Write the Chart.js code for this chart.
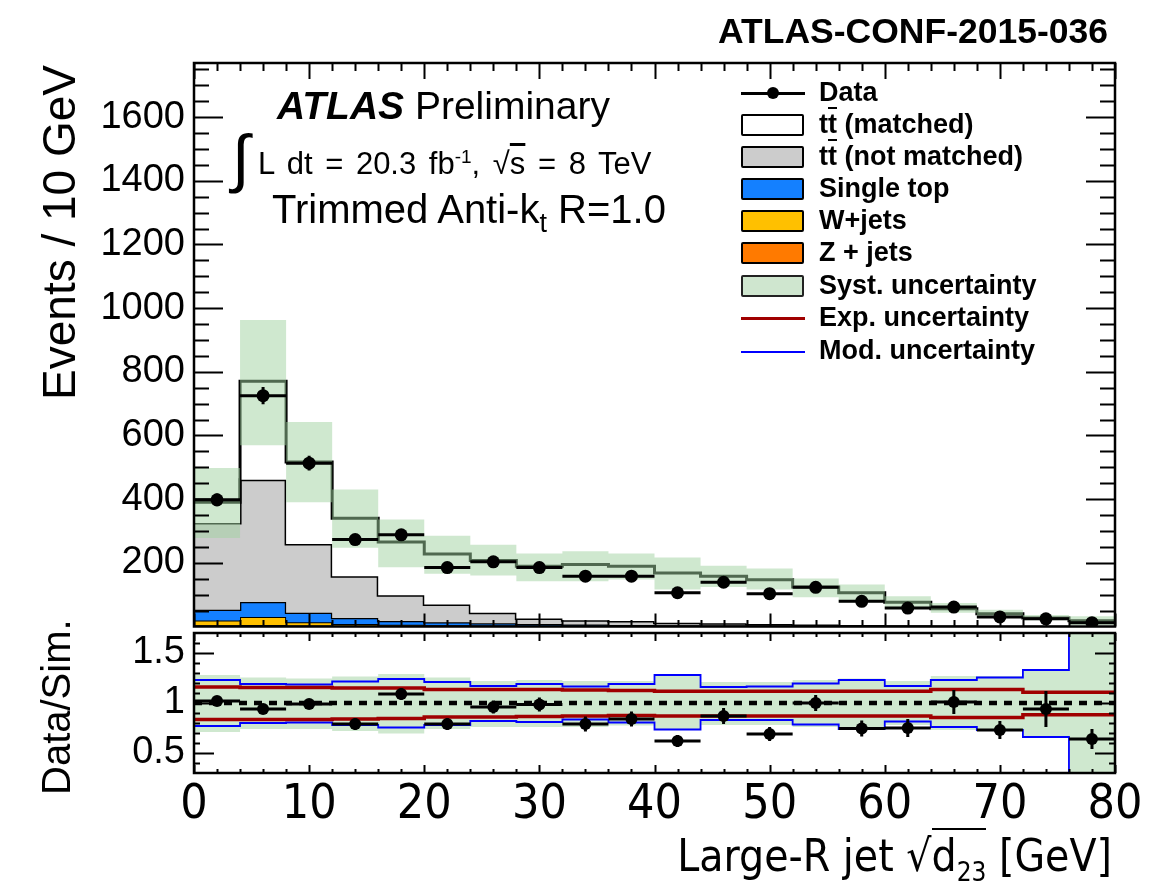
<!DOCTYPE html>
<html>
<head>
<meta charset="utf-8">
<script src="https://cdn.jsdelivr.net/npm/chart.js@4.4.1/dist/chart.umd.min.js"></script>
<style>
  html, body { margin: 0; padding: 0; background: #fff; }
  #wrap { position: relative; width: 1165px; height: 883px; overflow: hidden;
          font-family: 'Liberation Sans', Arial, Helvetica, sans-serif; color: #000; }
  canvas { position: absolute; left: 0; }
  #cMain { top: 0; }
  #cRatio { top: 627px; }
  .txt { position: absolute; white-space: nowrap; line-height: 1; }
  .narrow { font-family: 'Liberation Sans Narrow', 'DejaVu Sans Condensed', 'Liberation Sans', sans-serif; font-stretch: condensed; }
  .ov { text-decoration: overline; }
  #legend { position: absolute; left: 741px; top: 77px; }
  .lrow { position: absolute; left: 0; height: 32px; width: 340px; }
  .lbox { position: absolute; left: 0; top: 5px; width: 59px; height: 18px; border: 2.5px solid #000; border-radius: 2px; }
  .lline { position: absolute; left: 0; width: 64px; }
  .ltext { position: absolute; left: 78px; top: 2px; font-size: 27px; font-weight: bold; line-height: 1; white-space: nowrap; }
</style>
</head>
<body>
<div id="wrap">
  <canvas id="cMain" width="1165" height="633"></canvas>
  <canvas id="cRatio" width="1165" height="256"></canvas>

  <div class="txt" style="right:57px; top:14px; font-size:35.5px; font-weight:bold;">ATLAS-CONF-2015-036</div>
  <div class="txt" style="left:277px; top:86px; font-size:39px;"><b><i>ATLAS</i></b> Preliminary</div>
  <div class="txt" style="left:232px; top:126px; font-size:64px;">&#8747;</div>
  <div class="txt" style="left:258px; top:147px; font-size:31px; word-spacing:4px;">L dt = 20.3 fb<sup style="font-size:19px;">-1</sup>, &#8730;<span class="ov">s</span> = 8 TeV</div>
  <div class="txt" style="left:272px; top:189px; font-size:40px;">Trimmed Anti-k<sub style="font-size:27px;">t</sub> R=1.0</div>

  <div class="txt" style="left:36px; top:400px; width:335px; text-align:right; font-size:46px; transform-origin:0 0; transform:rotate(-90deg);">Events / 10 GeV</div>
  <div class="txt" style="left:36px; top:795px; width:170px; text-align:right; font-size:40px; transform-origin:0 0; transform:rotate(-90deg);">Data/Sim.</div>
  <div class="txt narrow" style="right:53px; top:834px; font-size:44px;">Large-R jet &#8730;<span style="border-top:2px solid #000;">d<sub style="font-size:26px;">23</sub></span> [GeV]</div>

  <div id="legend">
    <div class="lrow" style="top:0px;"><div class="lline" style="top:15px;height:3px;background:#000;"></div><div style="position:absolute;left:26px;top:10px;width:12px;height:12px;border-radius:50%;background:#000;"></div><div class="ltext">Data</div></div>
    <div class="lrow" style="top:32px;"><div class="lbox" style="background:#fff;"></div><div class="ltext">t<span class="ov">t</span> (matched)</div></div>
    <div class="lrow" style="top:64px;"><div class="lbox" style="background:#cccccc;"></div><div class="ltext">t<span class="ov">t</span> (not matched)</div></div>
    <div class="lrow" style="top:96px;"><div class="lbox" style="background:#1480ff;"></div><div class="ltext">Single top</div></div>
    <div class="lrow" style="top:128px;"><div class="lbox" style="background:#ffc000;"></div><div class="ltext">W+jets</div></div>
    <div class="lrow" style="top:160px;"><div class="lbox" style="background:#ff7a00;"></div><div class="ltext">Z + jets</div></div>
    <div class="lrow" style="top:193px;"><div class="lbox" style="background:#cfe6cf;border-color:#222;"></div><div class="ltext">Syst. uncertainty</div></div>
    <div class="lrow" style="top:225px;"><div class="lline" style="top:15px;height:3px;background:#a00000;"></div><div class="ltext">Exp. uncertainty</div></div>
    <div class="lrow" style="top:258px;"><div class="lline" style="top:16px;height:2px;background:#0000ff;"></div><div class="ltext">Mod. uncertainty</div></div>
  </div>
</div>

<script>
// Bin edges of the large-R jet sqrt(d23) histogram [GeV]
const binEdges = [0, 4, 8, 12, 16, 20, 24, 28, 32, 36, 40, 44, 48, 52, 56, 60, 64, 68, 72, 76, 80];
const binCenters = [2, 6, 10, 14, 18, 22, 26, 30, 34, 38, 42, 46, 50, 54, 58, 62, 66, 70, 74, 78];

// Observed events and statistical errors
const dataCounts = [398, 725, 513, 273, 288, 185, 203, 185, 158, 158, 106, 139, 103, 123, 79, 58, 61, 30, 24, 12];
const dataErrors = [20, 27, 23, 17, 17, 14, 14, 14, 13, 13, 10, 12, 10, 11, 9, 8, 8, 6, 5, 4];

// Simulated components (events per bin)
const zJets      = [4, 5, 3, 2, 1.5, 1, 1, 0.5, 0.5, 0.5, 0.3, 0.3, 0.3, 0.2, 0.2, 0.2, 0.1, 0.1, 0.1, 0.1];
const wJets      = [15, 25, 10, 6, 4, 3, 2, 1.5, 1.5, 1, 1, 0.8, 0.7, 0.6, 0.5, 0.4, 0.3, 0.3, 0.2, 0.2];
const singleTop  = [34, 47, 30, 19, 12, 9, 7, 6, 4, 3.5, 2.7, 1.9, 2, 1.2, 1.3, 0.9, 0.6, 0.6, 0.2, 0.2];
const ttNotMatch = [272, 384, 216, 131, 81, 56, 33, 17, 14, 12, 8, 7, 5, 4, 3, 2.5, 2, 1, 1.5, 0.5];
const ttMatched  = [65, 309, 258, 182, 167, 159, 164, 164, 175, 172, 156, 148, 139, 118, 101, 72, 53, 38, 25, 17];

// Systematic uncertainty band on the total prediction
const systLow  = [278, 569, 390, 247, 186, 166, 160, 142, 142, 148, 116, 124, 116, 92, 76, 55, 43, 27, 20, 5];
const systHigh = [498, 963, 642, 430, 336, 285, 257, 229, 236, 229, 217, 191, 182, 151, 132, 95, 74, 53, 36, 32];

// Data / simulation ratio panel
const ratioVals   = [1.02, 0.94, 0.99, 0.79, 1.09, 0.79, 0.96, 0.985, 0.79, 0.84, 0.62, 0.87, 0.69, 1.0, 0.745, 0.75, 1.01, 0.73, 0.94, 0.64];
const ratioErrors = [0.05, 0.04, 0.045, 0.06, 0.06, 0.06, 0.065, 0.07, 0.075, 0.075, 0.06, 0.08, 0.07, 0.08, 0.08, 0.09, 0.12, 0.09, 0.18, 0.1];
const ratioSystLow  = [0.71, 0.74, 0.74, 0.72, 0.695, 0.74, 0.76, 0.76, 0.76, 0.775, 0.73, 0.78, 0.78, 0.76, 0.745, 0.78, 0.73, 0.73, 0.66, 0.2];
const ratioSystHigh = [1.28, 1.255, 1.245, 1.265, 1.29, 1.255, 1.22, 1.23, 1.22, 1.22, 1.29, 1.21, 1.21, 1.23, 1.245, 1.22, 1.27, 1.27, 1.34, 1.9];
const expLow  = [0.835, 0.835, 0.835, 0.84, 0.845, 0.86, 0.86, 0.865, 0.87, 0.875, 0.87, 0.87, 0.87, 0.87, 0.87, 0.87, 0.855, 0.855, 0.883, 0.883];
const expHigh = [1.16, 1.155, 1.155, 1.15, 1.15, 1.135, 1.135, 1.135, 1.13, 1.125, 1.117, 1.117, 1.117, 1.117, 1.117, 1.117, 1.134, 1.134, 1.107, 1.107];
const modLow  = [0.77, 0.80, 0.805, 0.78, 0.755, 0.78, 0.82, 0.81, 0.835, 0.805, 0.735, 0.83, 0.83, 0.785, 0.74, 0.815, 0.76, 0.73, 0.66, 0.2];
const modHigh = [1.23, 1.19, 1.185, 1.215, 1.24, 1.21, 1.17, 1.19, 1.165, 1.19, 1.28, 1.16, 1.165, 1.195, 1.23, 1.17, 1.23, 1.255, 1.33, 1.8];

// Axis ticks
const xMajorTicks = [0, 10, 20, 30, 40, 50, 60, 70, 80];
const mainYLabels = [200, 400, 600, 800, 1000, 1200, 1400, 1600];
const ratioYLabels = [0.5, 1, 1.5];

const X_MIN = 0, X_MAX = 80, Y_MAX = 1770, R_MIN = 0.3, R_MAX = 1.7;
const HELV = "'Liberation Sans', Arial, Helvetica, sans-serif";
const NARROW = "'Liberation Sans Narrow', 'DejaVu Sans Condensed', 'Liberation Sans', sans-serif";
const BAND_FILL = 'rgba(160, 210, 160, 0.5)';

// histogram as a stepped line through the left bin edges (+ closing point)
function steps(values) {
  return binEdges.map((e, i) => ({ x: e, y: values[Math.min(i, values.length - 1)] }));
}
function cumulate(...layers) {
  return layers[0].map((_, i) => layers.reduce((s, l) => s + l[i], 0));
}

// ROOT-like frame with inward ticks on all four sides
function framePlugin(cfg) {
  return {
    id: 'frame',
    afterDraw(chart) {
      const { ctx, chartArea: a, scales: { x, y } } = chart;
      ctx.save();
      ctx.strokeStyle = '#000';
      ctx.lineWidth = 2;
      ctx.beginPath();
      for (let v = X_MIN; v <= X_MAX + 1e-9; v += 2) {
        const px = Math.round(x.getPixelForValue(v)) + 0.5;
        const major = xMajorTicks.includes(v);
        const lb = major ? cfg.xMajB : cfg.xMinB;
        const lt = major ? cfg.xMajT : cfg.xMinT;
        ctx.moveTo(px, a.bottom); ctx.lineTo(px, a.bottom - lb);
        ctx.moveTo(px, a.top); ctx.lineTo(px, a.top + lt);
      }
      for (let v = cfg.yMinorStart; v <= cfg.yMax + 1e-9; v += cfg.yMinorStep) {
        const vv = Math.round(v * 1000) / 1000;
        const py = Math.round(y.getPixelForValue(vv)) + 0.5;
        if (py < a.top + 2 || py > a.bottom - 1) continue;
        const major = cfg.yMajors.some(m => Math.abs(m - vv) < 1e-6);
        const l = major ? cfg.yMaj : cfg.yMin;
        ctx.moveTo(a.left, py); ctx.lineTo(a.left + l, py);
        ctx.moveTo(a.right, py); ctx.lineTo(a.right - l, py);
      }
      ctx.stroke();
      ctx.lineWidth = 2.5;
      ctx.strokeRect(a.left, a.top, a.right - a.left, a.bottom - a.top);
      ctx.restore();
    }
  };
}

// Horizontal (bin width) and vertical (stat.) error bars for the data points
const errorBarPlugin = {
  id: 'errorBars',
  afterDatasetsDraw(chart) {
    const { ctx, chartArea: a, scales: { x, y } } = chart;
    chart.data.datasets.forEach(ds => {
      if (!ds.errors) return;
      ctx.save();
      ctx.beginPath();
      ctx.rect(a.left, a.top, a.right - a.left, a.bottom - a.top);
      ctx.clip();
      ctx.strokeStyle = '#000';
      ctx.lineWidth = 3;
      ctx.beginPath();
      ds.data.forEach((p, i) => {
        const py = y.getPixelForValue(p.y);
        ctx.moveTo(x.getPixelForValue(binEdges[i]), py);
        ctx.lineTo(x.getPixelForValue(binEdges[i + 1]), py);
        const px = x.getPixelForValue(p.x);
        ctx.moveTo(px, y.getPixelForValue(p.y - ds.errors[i]));
        ctx.lineTo(px, y.getPixelForValue(p.y + ds.errors[i]));
      });
      ctx.stroke();
      ctx.restore();
    });
  }
};

function stepLine(label, values, color, width, extra) {
  return Object.assign({
    label, data: steps(values), stepped: 'before', borderColor: color, borderWidth: width,
    pointRadius: 0, fill: false, tension: 0
  }, extra || {});
}

// Stack tops (bottom to top: Z+jets, W+jets, single top, tt not matched, tt matched)
const topZ  = cumulate(zJets);
const topW  = cumulate(zJets, wJets);
const topST = cumulate(zJets, wJets, singleTop);
const topNM = cumulate(zJets, wJets, singleTop, ttNotMatch);
const topM  = cumulate(zJets, wJets, singleTop, ttNotMatch, ttMatched);

const mainDatasets = [
  stepLine('Z + jets', topZ, '#000', 2, { fill: 'origin', backgroundColor: '#ff7a00', order: 7 }),
  stepLine('W+jets', topW, '#000', 2, { fill: 0, backgroundColor: '#ffc000', order: 6 }),
  stepLine('Single top', topST, '#000', 2.5, { fill: 1, backgroundColor: '#1480ff', order: 5 }),
  stepLine('tt (not matched)', topNM, '#000', 3, { fill: 2, backgroundColor: '#cccccc', order: 4 }),
  stepLine('tt (matched)', topM, '#000', 3, { fill: 3, backgroundColor: '#ffffff', order: 3 }),
  stepLine('syst low', systLow, 'rgba(0,0,0,0)', 0, { order: 2 }),
  stepLine('Syst. uncertainty', systHigh, 'rgba(0,0,0,0)', 0, { fill: 5, backgroundColor: BAND_FILL, order: 1 }),
  {
    label: 'Data', data: binCenters.map((c, i) => ({ x: c, y: dataCounts[i] })), errors: dataErrors,
    showLine: false, pointRadius: 6.5, pointBackgroundColor: '#000', pointBorderColor: '#000', pointBorderWidth: 0, order: 0
  }
];

const commonOpts = {
  responsive: false, animation: false, devicePixelRatio: 1,
  plugins: { legend: { display: false }, tooltip: { enabled: false } }
};

function zeroPad(s) { s.paddingTop = 0; s.paddingBottom = 0; s.paddingLeft = 0; s.paddingRight = 0; }

new Chart(document.getElementById('cMain'), {
  type: 'line',
  data: { datasets: mainDatasets },
  options: Object.assign({}, commonOpts, {
    layout: { padding: { left: 0, top: 63, right: 50, bottom: 6 } },
    scales: {
      x: { type: 'linear', min: X_MIN, max: X_MAX, display: false },
      y: {
        type: 'linear', min: 0, max: Y_MAX,
        grid: { display: false, drawTicks: false }, border: { display: false },
        afterBuildTicks: s => { s.ticks = mainYLabels.map(v => ({ value: v })); },
        ticks: { color: '#000', padding: 9, font: { family: HELV, size: 38 }, callback: v => String(v) },
        afterFit: s => { s.width = 194; zeroPad(s); }
      }
    }
  }),
  plugins: [errorBarPlugin, framePlugin({
    xMajB: 13, xMinB: 6.5, xMajT: 16, xMinT: 8,
    yMinorStart: 0, yMinorStep: 50, yMax: Y_MAX, yMajors: [0].concat(mainYLabels), yMaj: 29, yMin: 15
  })]
});

const ratioDatasets = [
  stepLine('syst low', ratioSystLow, 'rgba(0,0,0,0)', 0, { order: 9 }),
  stepLine('syst high', ratioSystHigh, 'rgba(0,0,0,0)', 0, { fill: 0, backgroundColor: BAND_FILL, order: 8 }),
  stepLine('Mod. low', modLow, '#0000ff', 1.8, { order: 7 }),
  stepLine('Mod. high', modHigh, '#0000ff', 1.8, { order: 6 }),
  stepLine('Exp. low', expLow, '#a00000', 3.5, { order: 5 }),
  stepLine('Exp. high', expHigh, '#a00000', 3.5, { order: 4 }),
  { label: 'unity', data: [{ x: X_MIN, y: 1 }, { x: X_MAX, y: 1 }], borderColor: '#000', borderWidth: 4.5,
    borderDash: [8, 7], pointRadius: 0, fill: false, order: 3 },
  {
    label: 'Data/Sim.', data: binCenters.map((c, i) => ({ x: c, y: ratioVals[i] })), errors: ratioErrors,
    showLine: false, pointRadius: 6, pointBackgroundColor: '#000', pointBorderColor: '#000', pointBorderWidth: 0, order: 0
  }
];

new Chart(document.getElementById('cRatio'), {
  type: 'line',
  data: { datasets: ratioDatasets },
  options: Object.assign({}, commonOpts, {
    layout: { padding: { left: 0, top: 6, right: 50, bottom: 0 } },
    scales: {
      x: {
        type: 'linear', min: X_MIN, max: X_MAX,
        grid: { display: false, drawTicks: false }, border: { display: false },
        afterBuildTicks: s => { s.ticks = xMajorTicks.map(v => ({ value: v })); },
        ticks: { color: '#000', padding: 4, maxRotation: 0, autoSkip: false, font: { family: NARROW, size: 48 }, callback: v => String(v) },
        afterFit: s => { s.height = 110; zeroPad(s); }
      },
      y: {
        type: 'linear', min: R_MIN, max: R_MAX,
        grid: { display: false, drawTicks: false }, border: { display: false },
        afterBuildTicks: s => { s.ticks = ratioYLabels.map(v => ({ value: v })); },
        ticks: { color: '#000', padding: 9, font: { family: HELV, size: 38 }, callback: v => String(v) },
        afterFit: s => { s.width = 194; zeroPad(s); }
      }
    }
  }),
  plugins: [errorBarPlugin, framePlugin({
    xMajB: 8, xMinB: 4, xMajT: 8, xMinT: 4,
    yMinorStart: 0.3, yMinorStep: 0.1, yMax: R_MAX, yMajors: ratioYLabels, yMaj: 20, yMin: 6
  })]
});
</script>
</body>
</html>
